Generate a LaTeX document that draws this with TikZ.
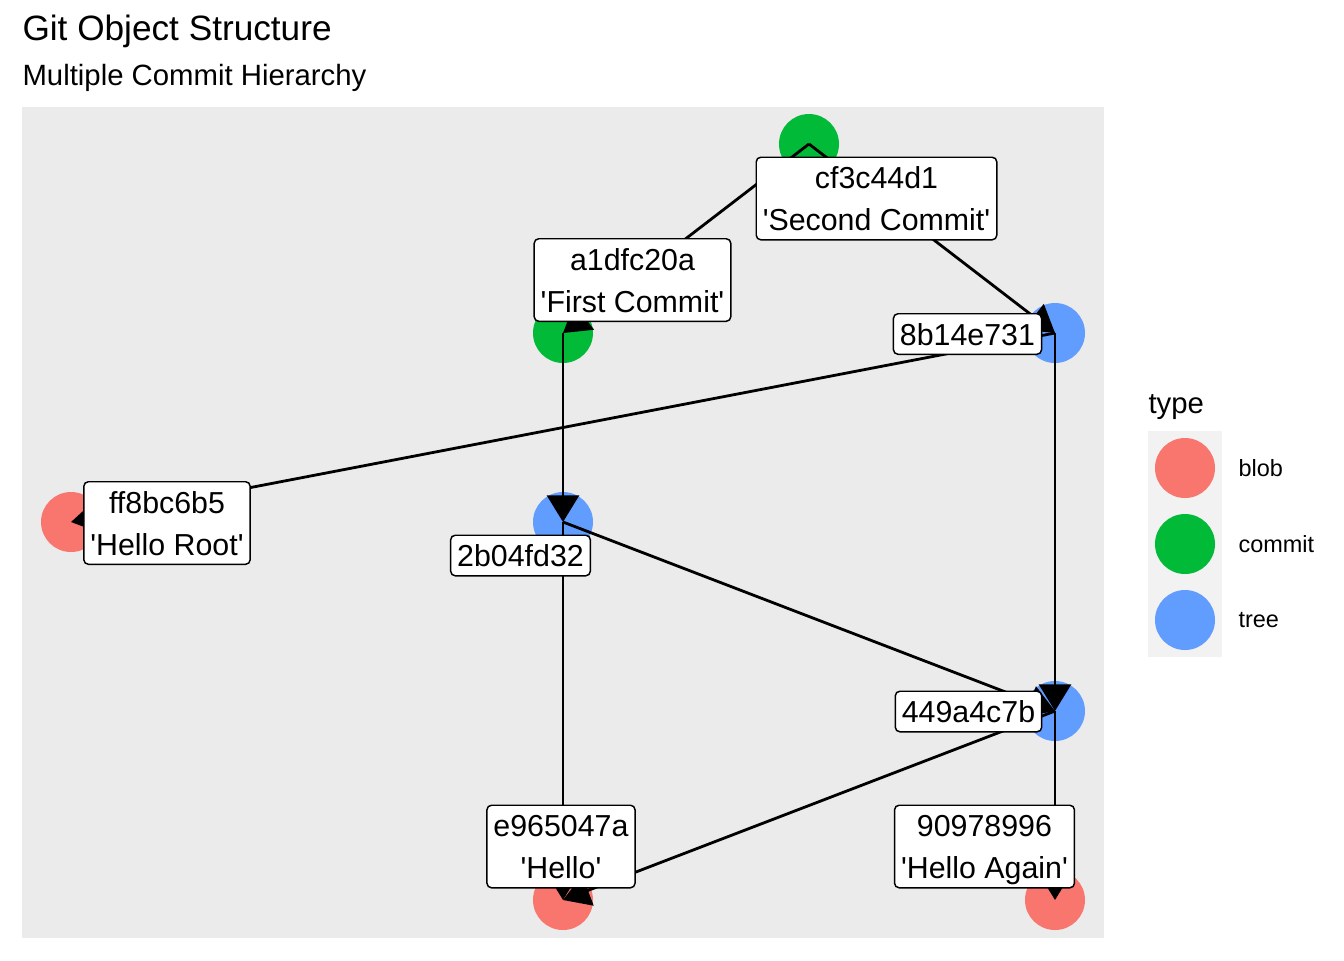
\documentclass[tikz,border=0pt]{standalone}
\usepackage{fontspec}
\setmainfont{Liberation Sans}
\usetikzlibrary{arrows.meta}
\definecolor{blobc}{HTML}{F8766D}
\definecolor{commitc}{HTML}{00BA38}
\definecolor{treec}{HTML}{619CFF}
\definecolor{panelc}{HTML}{EBEBEB}
\definecolor{keybgc}{HTML}{F2F2F2}
\newcommand{\lstrut}{\rule[-2.5pt]{0pt}{13.4pt}}
\newcommand{\sq}{\textquotesingle}
\begin{document}
\begin{tikzpicture}[x=0.375pt,y=-0.375pt,
  obj/.style={circle, minimum size=22.5pt, inner sep=0pt, draw=none},
  blobnode/.style={obj, fill=blobc},
  commitnode/.style={obj, fill=commitc},
  treenode/.style={obj, fill=treec},
  edge/.style={line width=1.05pt, draw=black, -{Triangle[length=10pt,width=12pt]}},
  lab/.style={draw=black, line width=0.55pt, fill=white, rounded corners=1.7pt,
    font=\fontsize{11.38}{15.75}\selectfont, inner xsep=2.45pt, inner ysep=0.9pt, align=center},
  legtext/.style={anchor=west, inner sep=0pt, font=\fontsize{8.8}{10}\selectfont}
]
\useasboundingbox (0,0) rectangle (1344,960);
\fill[panelc] (22,107) rectangle (1104,938);
\node[anchor=base west, inner sep=0pt, font=\fontsize{13.2}{15}\selectfont] (title) at (22,40) {Git Object Structure};
\node[anchor=base west, inner sep=0pt, font=\fontsize{11}{13}\selectfont] (subtitle) at (22,85) {Multiple Commit Hierarchy};

% object nodes
\node[commitnode] (ncf3) at (809,144) {};
\node[commitnode] (na1d) at (563,333) {};
\node[treenode] (n8b1) at (1055,333) {};
\node[blobnode] (nff8) at (71,522) {};
\node[treenode] (n2b0) at (563,522) {};
\node[treenode] (n449) at (1055,711) {};
\node[blobnode] (ne96) at (563,900) {};
\node[blobnode] (n909) at (1055,900) {};

% edges
\draw[edge] (ncf3.center) -- (na1d.center);
\draw[edge] (ncf3.center) -- (n8b1.center);
\draw[edge] (na1d.center) -- (n2b0.center);
\draw[edge] (n8b1.center) -- (nff8.center);
\draw[edge] (n8b1.center) -- (n449.center);
\draw[edge] (n2b0.center) -- (n449.center);
\draw[edge] (n2b0.center) -- (ne96.center);
\draw[edge] (n449.center) -- (ne96.center);
\draw[edge] (n449.center) -- (n909.center);

% labels
\node[lab] (lcf3) at (876.5,198.5) {\lstrut cf3c44d1\\\lstrut\sq Second Commit\sq};
\node[lab] (la1d) at (632.5,280) {\lstrut a1dfc20a\\\lstrut\sq First Commit\sq};
\node[lab] (l8b1) at (967.5,334) {\lstrut 8b14e731};
\node[lab] (lff8) at (167,523) {\lstrut ff8bc6b5\\\lstrut\sq Hello Root\sq};
\node[lab] (l2b0) at (520.5,555.5) {\lstrut 2b04fd32};
\node[lab] (l449) at (968.5,711.5) {\lstrut 449a4c7b};
\node[lab] (le96) at (561,846.5) {\lstrut e965047a\\\lstrut\sq Hello\sq};
\node[lab] (l909) at (984.5,846.5) {\lstrut 90978996\\\lstrut\sq Hello Again\sq};

% legend
\node[anchor=base west, inner sep=0pt, font=\fontsize{11}{13}\selectfont] (legtitle) at (1148,413) {type};
\fill[keybgc] (1148,431) rectangle (1222,657);
\node[blobnode] (kblob) at (1185,468) {};
\node[commitnode] (kcommit) at (1185,544) {};
\node[treenode] (ktree) at (1185,620) {};
\node[legtext] (tblob) at (1238,468) {blob};
\node[legtext] (tcommit) at (1238,544) {commit};
\node[legtext] (ttree) at (1238,620) {tree};
\end{tikzpicture}
\end{document}
